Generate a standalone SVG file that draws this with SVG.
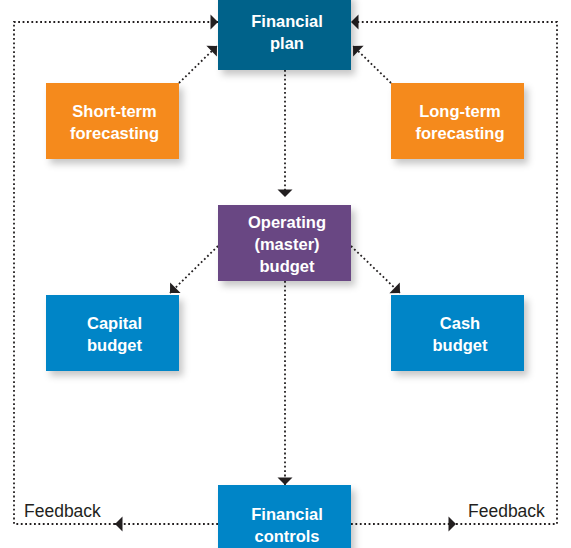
<svg xmlns="http://www.w3.org/2000/svg" width="571" height="548" viewBox="0 0 571 548">
  <defs>
    <filter id="sh" x="-20%" y="-20%" width="150%" height="150%">
      <feDropShadow dx="4" dy="5" stdDeviation="3.5" flood-color="#000" flood-opacity="0.22"/>
    </filter>
    <marker id="ah" markerUnits="userSpaceOnUse" markerWidth="16" markerHeight="16" viewBox="-8 -8 16 16" refX="0" refY="0" orient="auto">
      <path d="M0,0 L-7.5,-7.5 L-7.5,7.5 Z" fill="#231f20"/>
    </marker>
  </defs>
  <style>
    .lbl { font-family: "Liberation Sans", Arial, sans-serif; font-weight: bold; font-size: 16.5px; fill: #ffffff; text-anchor: middle; }
    .fb { font-family: "Liberation Sans", Arial, sans-serif; font-size: 17.5px; fill: #231f20; }
    .c { fill: none; stroke: #231f20; stroke-width: 1.8; stroke-dasharray: 1.8 2.6; }
  </style>
  <rect width="571" height="548" fill="#ffffff"/>

  <g id="connectors">
    <path class="c" d="M179,83 L217,46" marker-end="url(#ah)"/>
    <path class="c" d="M391,83 L353,46" marker-end="url(#ah)"/>
    <path class="c" d="M285,70 L285,197" marker-end="url(#ah)"/>
    <path class="c" d="M218,246 L170,293" marker-end="url(#ah)"/>
    <path class="c" d="M351,246 L400,293" marker-end="url(#ah)"/>
    <path class="c" d="M285,281 L285,485" marker-end="url(#ah)"/>
    <path class="c" d="M218,524 L115,524" marker-end="url(#ah)"/>
    <path class="c" d="M115,524 L14,524 L14,22 L218,22" marker-end="url(#ah)"/>
    <path class="c" d="M351,524 L456,524" marker-end="url(#ah)"/>
    <path class="c" d="M456,524 L557,524 L557,22 L351,22" marker-end="url(#ah)"/>
  </g>

  <g id="financial-plan">
    <rect x="218" y="-6" width="133" height="76" fill="#00628a" filter="url(#sh)"/>
    <text class="lbl" x="287" y="27">Financial</text>
    <text class="lbl" x="287" y="49">plan</text>
  </g>
  <g id="short-term">
    <rect x="46" y="83" width="133" height="76" fill="#f58a1f" filter="url(#sh)"/>
    <text class="lbl" x="114.5" y="117">Short-term</text>
    <text class="lbl" x="114.5" y="139">forecasting</text>
  </g>
  <g id="long-term">
    <rect x="391" y="83" width="133" height="76" fill="#f58a1f" filter="url(#sh)"/>
    <text class="lbl" x="460" y="117">Long-term</text>
    <text class="lbl" x="460" y="139">forecasting</text>
  </g>
  <g id="operating-budget">
    <rect x="218" y="205" width="133" height="76" fill="#694683" filter="url(#sh)"/>
    <text class="lbl" x="287" y="228">Operating</text>
    <text class="lbl" x="287" y="250">(master)</text>
    <text class="lbl" x="287" y="272">budget</text>
  </g>
  <g id="capital-budget">
    <rect x="46" y="295" width="133" height="76" fill="#0085c7" filter="url(#sh)"/>
    <text class="lbl" x="114.5" y="329">Capital</text>
    <text class="lbl" x="114.5" y="351">budget</text>
  </g>
  <g id="cash-budget">
    <rect x="391" y="295" width="133" height="76" fill="#0085c7" filter="url(#sh)"/>
    <text class="lbl" x="460" y="329">Cash</text>
    <text class="lbl" x="460" y="351">budget</text>
  </g>
  <g id="financial-controls">
    <rect x="218" y="485" width="133" height="76" fill="#0085c7" filter="url(#sh)"/>
    <text class="lbl" x="287" y="520">Financial</text>
    <text class="lbl" x="287" y="542">controls</text>
  </g>

  <text class="fb" x="24" y="517">Feedback</text>
  <text class="fb" x="468" y="517">Feedback</text>
</svg>
